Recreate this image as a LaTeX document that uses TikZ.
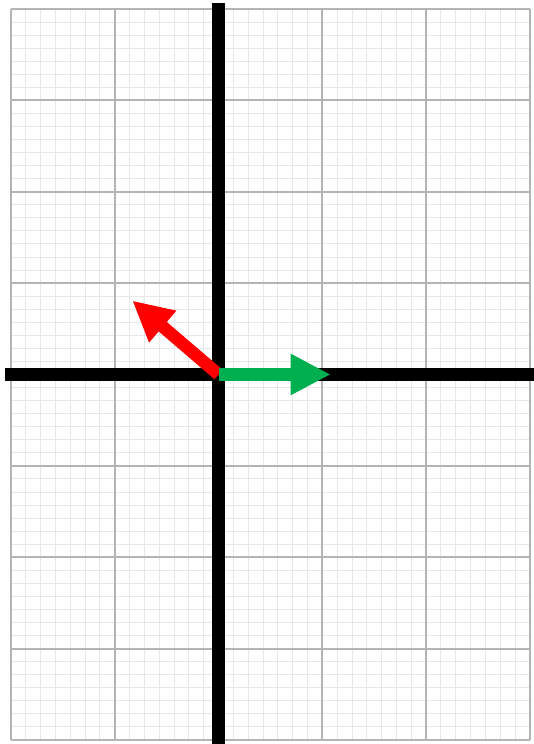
\documentclass[tikz,border=0pt]{standalone}
\usetikzlibrary{arrows.meta}
\definecolor{gridmajor}{HTML}{B4B4B4}
\definecolor{gridminor}{HTML}{E8E8E8}
\definecolor{vecgreen}{HTML}{00B050}

\begin{document}
\begin{tikzpicture}[x=2.076cm, y=1.8275cm,
  minorgrid/.style={draw=gridminor, line width=0.5pt},
  majorgrid/.style={draw=gridmajor, line width=1.1pt},
  axis/.style={draw=black, line width=0.26cm},
  vec/.style={line width=0.25cm, -{Triangle[length=0.8cm, width=0.77cm]}}]
  \useasboundingbox (-2.105,-4.044) rectangle (3.030,4.098);

  % Grid
  \draw[minorgrid, step=0.142857] (-2,-4) grid (3,4);
  \draw[majorgrid, step=1] (-2,-4) grid (3,4);

  % Points
  \coordinate (O) at (0,0);
  \coordinate (top) at (0,4.066);
  \coordinate (bottom) at (0,-4.1);
  \coordinate (left) at (-2.057,0);
  \coordinate (right) at (3.1,0);
  \coordinate (u) at (-0.830,0.808);
  \coordinate (v) at (1.081,0);

  % Axes
  \draw[axis] (bottom) -- (top);
  \draw[axis] (left) -- (right);

  % Vectors
  \draw[vec, red, -{Triangle[length=0.8cm, width=0.78cm]}] (O) -- (u);
  \draw[vec, vecgreen] (O) -- (v);
\end{tikzpicture}
\end{document}
